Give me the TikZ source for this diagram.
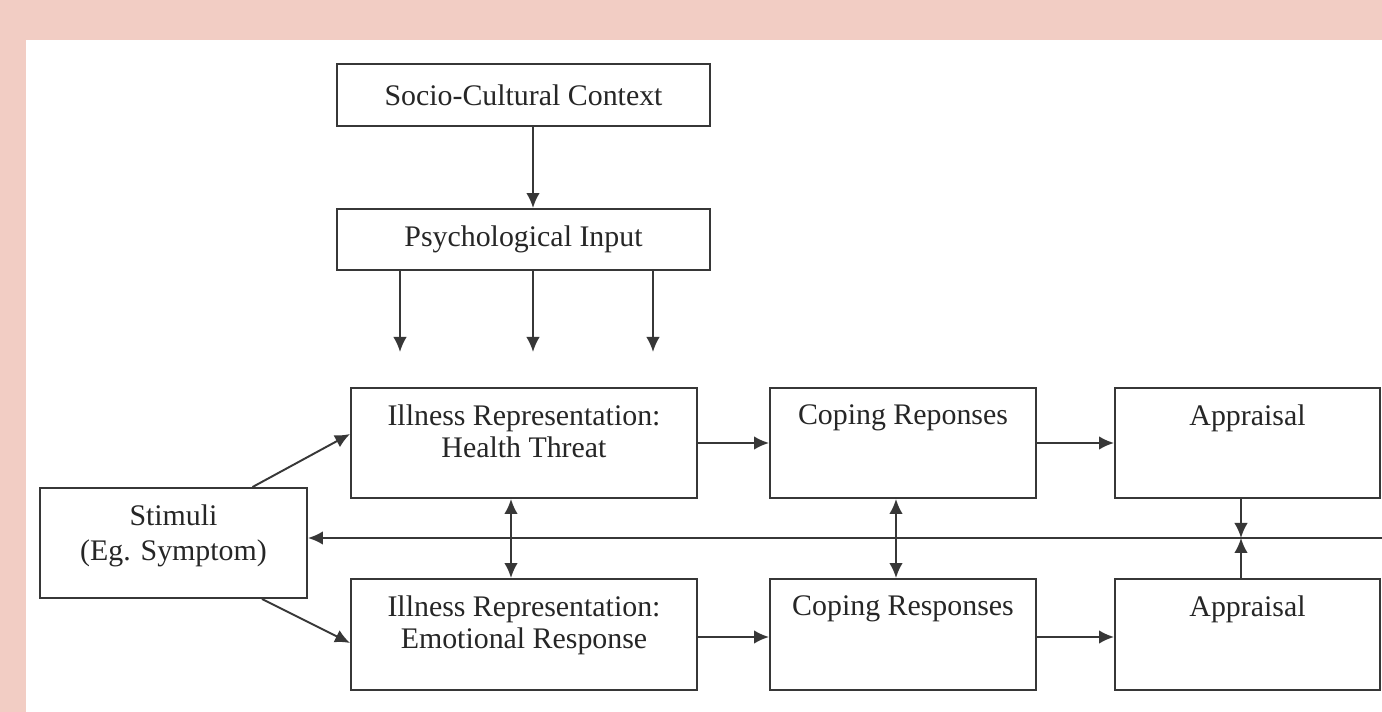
\documentclass[tikz,border=0pt]{standalone}
\usepackage{fontspec}
\setmainfont{Liberation Serif}
\usetikzlibrary{arrows.meta}
\definecolor{pinkbg}{RGB}{242,205,196}
\definecolor{linegray}{RGB}{55,55,55}
\definecolor{textgray}{RGB}{38,38,38}
\newcommand{\diagfont}{\fontsize{17}{18.4}\selectfont}

\begin{document}
\begin{tikzpicture}[
		box/.style={draw=linegray, line width=1.1pt, fill=white, minimum height=2.2cm, align=center, font=\diagfont, text=textgray},
		caption/.style={anchor=north, align=center, font=\diagfont, text=textgray, yshift=-0.34cm},
		arr/.style={draw=linegray, line width=1.1pt, -{Latex[length=0.3cm,width=0.27cm]}},
		dblarr/.style={arr, {Latex[length=0.3cm,width=0.27cm]}-{Latex[length=0.3cm,width=0.27cm]}}]
		\tikzstyle{every node}+=[inner sep=0pt]
		\useasboundingbox (0,0) rectangle (27.64,-14.24);
		\clip (0,0) rectangle (27.64,-14.24);
		\fill [pinkbg] (0,0) rectangle (27.64,-14.24);
		\fill [white] (0.52,-0.80) rectangle (27.64,-14.24);
		\node [box, minimum width=7.46cm, minimum height=1.24cm] (scc) at (10.47,-1.90) {Socio-Cultural Context};
		\node [box, minimum width=7.46cm, minimum height=1.22cm] (psy) at (10.47,-4.79) {Psychological Input};
		\node [box, minimum width=6.92cm] (irht) at (10.48,-8.86) {};
		\node [caption] (irht-t) at (irht.north) {Illness Representation:\\Health Threat};
		\node [box, minimum width=5.32cm] (cop1) at (18.06,-8.86) {};
		\node [caption] (cop1-t) at (cop1.north) {Coping Reponses};
		\node [box, minimum width=5.30cm] (app1) at (24.95,-8.86) {};
		\node [caption] (app1-t) at (app1.north) {Appraisal};
		\node [box, minimum width=6.92cm, minimum height=2.22cm] (irer) at (10.48,-12.69) {};
		\node [caption] (irer-t) at (irer.north) {Illness Representation:\\Emotional Response};
		\node [box, minimum width=5.32cm, minimum height=2.22cm] (cop2) at (18.06,-12.69) {};
		\node [caption] (cop2-t) at (cop2.north) {Coping Responses};
		\node [box, minimum width=5.30cm, minimum height=2.22cm] (app2) at (24.95,-12.69) {};
		\node [caption] (app2-t) at (app2.north) {Appraisal};
		\node [box, minimum width=5.34cm] (stim) at (3.47,-10.86) {};
		\node [caption] (stim-t) at (stim.north) {Stimuli\\[1.6pt](Eg. Symptom)};
		\coordinate (in1) at (8.00,-7.04);
		\coordinate (in2) at (10.66,-7.04);
		\coordinate (in3) at (13.06,-7.04);
		\coordinate (fb) at (27.70,-10.76);
		\coordinate (fbx) at (24.82,-10.76);
		\draw [arr] ([xshift=0.19cm]scc.south) -- ([xshift=0.19cm]psy.north);
		\draw [arr] (psy.south -| in1) -- (in1);
		\draw [arr] (psy.south -| in2) -- (in2);
		\draw [arr] (psy.south -| in3) -- (in3);
		\draw [arr] ([xshift=1.58cm]stim.north) -- ([yshift=0.18cm]irht.west);
		\draw [arr] ([xshift=1.77cm]stim.south) -- ([yshift=-0.17cm]irer.west);
		\draw [arr] (irht.east) -- (cop1.west);
		\draw [arr] (cop1.east) -- (app1.west);
		\draw [arr] ([yshift=-0.05cm]irer.east) -- ([yshift=-0.05cm]cop2.west);
		\draw [arr] ([yshift=-0.05cm]cop2.east) -- ([yshift=-0.05cm]app2.west);
		\draw [dblarr] ([xshift=-0.26cm]irht.south) -- ([xshift=-0.26cm]irer.north);
		\draw [dblarr] ([xshift=-0.14cm]cop1.south) -- ([xshift=-0.14cm]cop2.north);
		\draw [arr] (fb) -- (fb -| stim.east);
		\draw [arr] (fbx |- app1.south) -- (fbx);
		\draw [arr] (fbx |- app2.north) -- (fbx);
	\end{tikzpicture}
\end{document}
